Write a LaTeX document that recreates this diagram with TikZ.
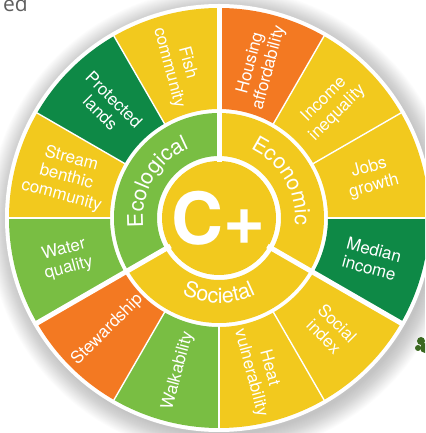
\documentclass[tikz,border=0pt]{standalone}
\usepackage{fontspec}
\setmainfont{TeX Gyre Heros}
\newfontfamily\fontgri{Open Sans}
\usepackage{tikz}
\usetikzlibrary{decorations.text}

\definecolor{galben}{RGB}{242,201,30}
\definecolor{portocaliu}{RGB}{243,121,34}
\definecolor{verdeinchis}{RGB}{14,137,70}
\definecolor{verdedeschis}{RGB}{121,190,67}
\definecolor{griu}{RGB}{95,95,95}
\definecolor{copac}{RGB}{58,104,32}

% felie de inel: culoare, unghi start, unghi final, raza interioara, raza exterioara
\newcommand{\felie}[5]{\fill[#1] (#2:#4) arc[start angle=#2, end angle=#3, radius=#4] -- (#3:#5) arc[start angle=#3, end angle=#2, radius=#5] -- cycle;}
\newcommand{\litgrup}{\color{white}\fontsize{21.5}{21.5}\selectfont}

\begin{document}
\begin{tikzpicture}[x=1pt, y=1pt]
        \tikzstyle{subtire}  = [white, line width=1.4pt]
        \tikzstyle{gros}     = [white, line width=5pt]
        \tikzstyle{eticheta} = [white, align=center, inner sep=0pt, font=\fontsize{17}{19}\selectfont]
        \tikzstyle{centru}   = [white, inner sep=0pt, font=\fontsize{72}{72}\selectfont\bfseries]
        \tikzstyle{grup}     = [decorate, decoration={text along path, text align=center}]

        \useasboundingbox (0,0) rectangle (425,433);
        \clip (0,0) rectangle (425,433);

        % Umbra roții.
        \foreach \r in {213,214,...,234}
            \fill[black, opacity=0.012] (222,211) circle[radius=\r];

        \begin{scope}[shift={(219,215)}]
            \fill[white] (0,0) circle[radius=214];

            % Sectoarele exterioare.
            \foreach[count=\i] \a/\cul/\eti/\rot in {
                     60/portocaliu/Housing\\affordability/75,
                     30/galben/Income\\inequality/45,
                      0/galben/Jobs\\growth/15,
                    -30/verdeinchis/Median\\income/-15,
                    -60/galben/Social\\index/-45,
                    -90/galben/Heat\\vulnerability/-75,
                   -120/verdedeschis/Walkability/75,
                   -150/portocaliu/Stewardship/45,
                   -180/verdedeschis/Water\\quality/15,
                    150/galben/Stream\\benthic\\community/-15,
                    120/verdeinchis/Protected\\lands/-45,
                     90/galben/Fish\\community/-75} {
                \felie{\cul}{\a}{\a+30}{109}{210}
                \node[eticheta, rotate=\rot] (et\i) at (\a+15:158) {\eti};
            }
            \foreach \u in {0,30,...,330}
                \draw[subtire] (\u:108) -- (\u:211);

            % Inelul interior si centrul.
            \felie{verdedeschis}{90}{210}{62}{105}
            \felie{galben}{-30}{90}{62}{105}
            \felie{galben}{210}{330}{62}{105}
            \fill[galben] (0,0) circle[radius=57];

            % Liniile groase dintre grupuri.
            \foreach \u in {90,-30,210}
                \draw[gros] (\u:56) -- (\u:212);

            % Numele grupurilor, pe arc.
            \path[grup, decoration={text={|\litgrup|Ecological}}]
                (210:76) arc[start angle=210, end angle=90, radius=76];
            \path[grup, decoration={text={|\litgrup|Economic}}]
                (90:76) arc[start angle=90, end angle=-30, radius=76];
            \path[grup, decoration={text={|\litgrup|Societal}}]
                (210:85) arc[start angle=210, end angle=330, radius=85];

            \node[centru] (nota) at (0,0) {C+};
        \end{scope}

        % Restul titlului si copacul de pe margine.
        \node[text=griu, anchor=base east, inner sep=0pt, font=\fontgri\fontsize{21}{21}\selectfont] (titlu) at (28,421) {ed};
        \fill[copac] (421,92) circle[radius=4];
        \fill[copac] (425,85) circle[radius=5];
        \fill[copac] (418,85) circle[radius=3];
\end{tikzpicture}
\end{document}
